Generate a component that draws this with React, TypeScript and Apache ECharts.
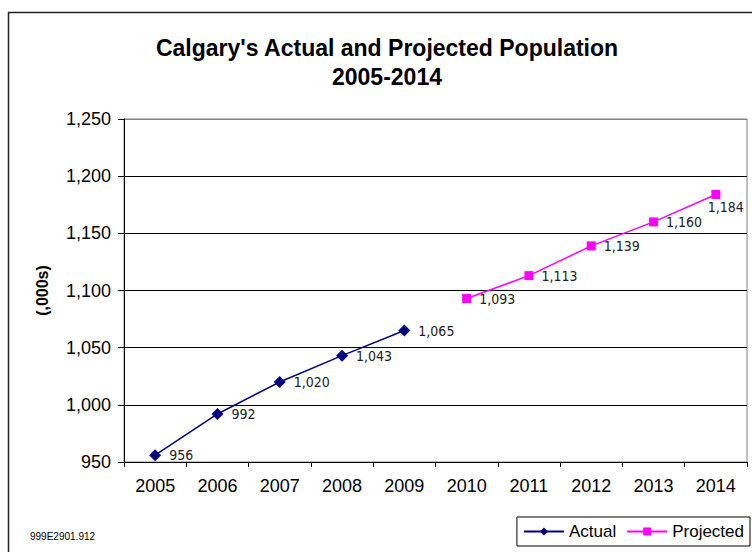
import React, { useEffect, useRef } from "react";
import * as echarts from "echarts";

const years = ["2005", "2006", "2007", "2008", "2009", "2010", "2011", "2012", "2013", "2014"];
const actual = [956, 992, 1020, 1043, 1065, null, null, null, null, null];
const projected = [null, null, null, null, null, 1093, 1113, 1139, 1160, 1184];
const titleText = "Calgary's Actual and Projected Population\n2005-2014";
const yAxisName = "(,000s)";
const footnote = "999E2901.912";

const fmt = (v: number) => v.toLocaleString("en-US");
const FONT = "'Liberation Sans', Arial, sans-serif";
const LABEL_FONT = "'DejaVu Sans Condensed', 'Liberation Sans', sans-serif";

export default function App() {
  const ref = useRef<HTMLDivElement>(null);
  useEffect(() => {
    if (!ref.current) return;
    const chart = echarts.init(ref.current, null, { renderer: "svg" });
    const labelBase = {
      show: true,
      position: "right",
      distance: 8,
      fontFamily: LABEL_FONT,
      fontSize: 14,
      color: "#222",
      formatter: (p: any) => fmt(p.value),
    };
    chart.setOption({
      animation: false,
      backgroundColor: "#fff",
      textStyle: { fontFamily: FONT },
      title: {
        text: titleText,
        left: 382,
        top: 28,
        textAlign: "center",
        textStyle: { fontFamily: FONT, fontSize: 23, fontWeight: "bold", color: "#000", lineHeight: 29 },
      },
      graphic: [
        {
          type: "rect",
          shape: { x: 8.5, y: 12.5, width: 900, height: 700 },
          style: { fill: "none", stroke: "#222", lineWidth: 1.5 },
          silent: true,
        },
        {
          type: "text",
          x: 30,
          y: 531,
          style: { text: footnote, font: `10px ${FONT}`, fill: "#000" },
        },
      ],
      grid: {
        left: 124,
        right: 5,
        top: 119,
        bottom: 90,
        show: true,
        borderColor: "#808080",
        borderWidth: 1,
      },
      legend: {
        right: 2,
        top: 517,
        padding: [6, 6, 6, 6],
        borderColor: "#000",
        borderWidth: 1,
        itemWidth: 40,
        itemHeight: 10,
        itemGap: 10,
        textStyle: { fontFamily: FONT, fontSize: 17, color: "#000" },
        data: ["Actual", "Projected"],
      },
      xAxis: {
        type: "category",
        data: years,
        boundaryGap: true,
        axisLine: { lineStyle: { color: "#000", width: 1 } },
        axisTick: { show: true, length: 5, lineStyle: { color: "#000" } },
        axisLabel: { margin: 15, fontSize: 18, color: "#000", fontFamily: FONT },
      },
      yAxis: {
        type: "value",
        min: 950,
        max: 1250,
        interval: 50,
        name: yAxisName,
        nameLocation: "middle",
        nameGap: 74,
        nameRotate: 90,
        nameTextStyle: { fontFamily: FONT, fontSize: 16, fontWeight: "bold", color: "#000" },
        axisLine: { show: true, lineStyle: { color: "#000", width: 1 } },
        axisTick: { show: true, length: 6, lineStyle: { color: "#000" } },
        axisLabel: {
          margin: 13,
          fontSize: 18,
          color: "#000",
          fontFamily: FONT,
          formatter: (v: number) => fmt(v),
        },
        splitLine: {
          show: true,
          lineStyle: { color: ["#000", "#000", "#000", "#000", "#000", "#000", "#808080"], width: 1 },
        },
      },
      series: [
        {
          name: "Actual",
          type: "line",
          data: actual,
          connectNulls: false,
          symbol: "diamond",
          symbolSize: 12,
          color: "#000080",
          lineStyle: { color: "#000080", width: 1.5 },
          itemStyle: { color: "#000080" },
          label: labelBase,
        },
        {
          name: "Projected",
          type: "line",
          data: projected.map((v, i) =>
            i === projected.length - 1 && v != null
              ? { value: v, label: { position: "bottom", distance: 1, offset: [10, 0] } }
              : v
          ),
          connectNulls: false,
          symbol: "rect",
          symbolSize: 9,
          color: "#FF00FF",
          lineStyle: { color: "#FF00FF", width: 1.5 },
          itemStyle: { color: "#FF00FF" },
          label: labelBase,
        },
      ],
    });
    return () => chart.dispose();
  }, []);
  return (
    <div
      ref={ref}
      style={{ position: "fixed", left: 0, top: 0, width: 752, height: 552, background: "#fff" }}
    />
  );
}
